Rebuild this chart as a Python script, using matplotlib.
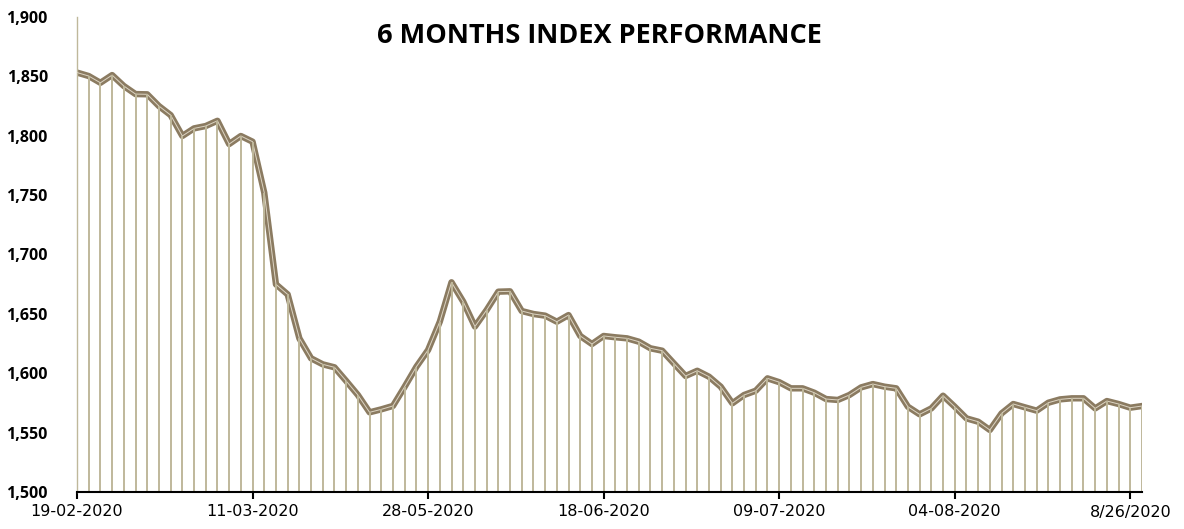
import matplotlib
matplotlib.use("Agg")
import matplotlib.pyplot as plt
from matplotlib.ticker import FuncFormatter

# index values, one per trading day
values = [
    1853.2, 1850.3, 1844.6, 1851.1, 1841.9, 1835.1, 1834.9, 1825.0, 1817.4, 1799.8,
    1806.2, 1808.2, 1812.6, 1793.0, 1799.8, 1795.0, 1752.1, 1674.9, 1666.4, 1629.4,
    1612.6, 1607.5, 1605.0, 1593.5, 1581.7, 1567.1, 1569.6, 1572.5, 1588.7, 1605.5,
    1619.6, 1643.4, 1676.6, 1660.3, 1639.3, 1653.2, 1668.7, 1669.0, 1652.4, 1649.9,
    1648.5, 1643.4, 1649.0, 1631.4, 1624.6, 1631.4, 1630.3, 1629.4, 1626.6, 1621.0,
    1619.0, 1608.3, 1597.7, 1602.1, 1597.1, 1588.7, 1574.7, 1581.7, 1585.3, 1595.7,
    1592.5, 1587.3, 1587.3, 1583.6, 1578.3, 1577.5, 1581.7, 1588.1, 1590.9, 1588.7,
    1587.3, 1571.8, 1565.4, 1570.4, 1581.1, 1571.8, 1562.0, 1559.2, 1552.2, 1566.2,
    1574.1, 1571.3, 1568.5, 1575.2, 1578.0, 1578.9, 1578.9, 1570.4, 1576.6, 1574.1,
    1571.0, 1572.4,
]
tick_pos = [0, 15, 30, 45, 60, 75, 90]
tick_labels = ["19-02-2020", "11-03-2020", "28-05-2020", "18-06-2020",
               "09-07-2020", "04-08-2020", "8/26/2020"]
y_ticks = [1500, 1550, 1600, 1650, 1700, 1750, 1800, 1850, 1900]

x = list(range(len(values)))

fig = plt.figure(figsize=(11.84, 5.29), dpi=100)
ax = fig.add_axes([77 / 1184, 37 / 529, (1142 - 77) / 1184, 475 / 529])

line_col = "#8b7b61"
drop_col = "#bfb89b"

ax.plot(x, values, color=line_col, lw=4.6, solid_joinstyle="round", zorder=2)
ax.plot(x, values, color="#ddd5c4", lw=0.7, zorder=3)
ax.vlines(x, 1500, values, color=drop_col, lw=1.4, zorder=4)

ax.set_xlim(0, 91)
ax.set_ylim(1500, 1900)

ax.set_yticks(y_ticks)
ax.yaxis.set_major_formatter(FuncFormatter(lambda v, p: f"{int(v):,}"))
ax.tick_params(axis="y", length=0, pad=21)
for lab in ax.get_yticklabels():
    lab.set_fontfamily("Open Sans")
    lab.set_fontweight("bold")
    lab.set_fontsize(11.5)

ax.set_xticks(tick_pos)
ax.set_xticklabels(tick_labels, fontfamily="DejaVu Sans", fontsize=11.5)
ax.tick_params(axis="x", length=5, width=1.5, color="black", pad=4)

for s in ["top", "right"]:
    ax.spines[s].set_visible(False)
ax.spines["left"].set_color(drop_col)
ax.spines["left"].set_linewidth(1.0)
ax.spines["bottom"].set_color("black")
ax.spines["bottom"].set_linewidth(1.5)
ax.spines["bottom"].set_zorder(5)

fig.text(599 / 1184, 1 - 36 / 529, "6 MONTHS INDEX PERFORMANCE",
         ha="center", va="center", fontfamily="Open Sans", fontweight="bold",
         fontsize=19.5)

fig.savefig("out.png", dpi=100)
